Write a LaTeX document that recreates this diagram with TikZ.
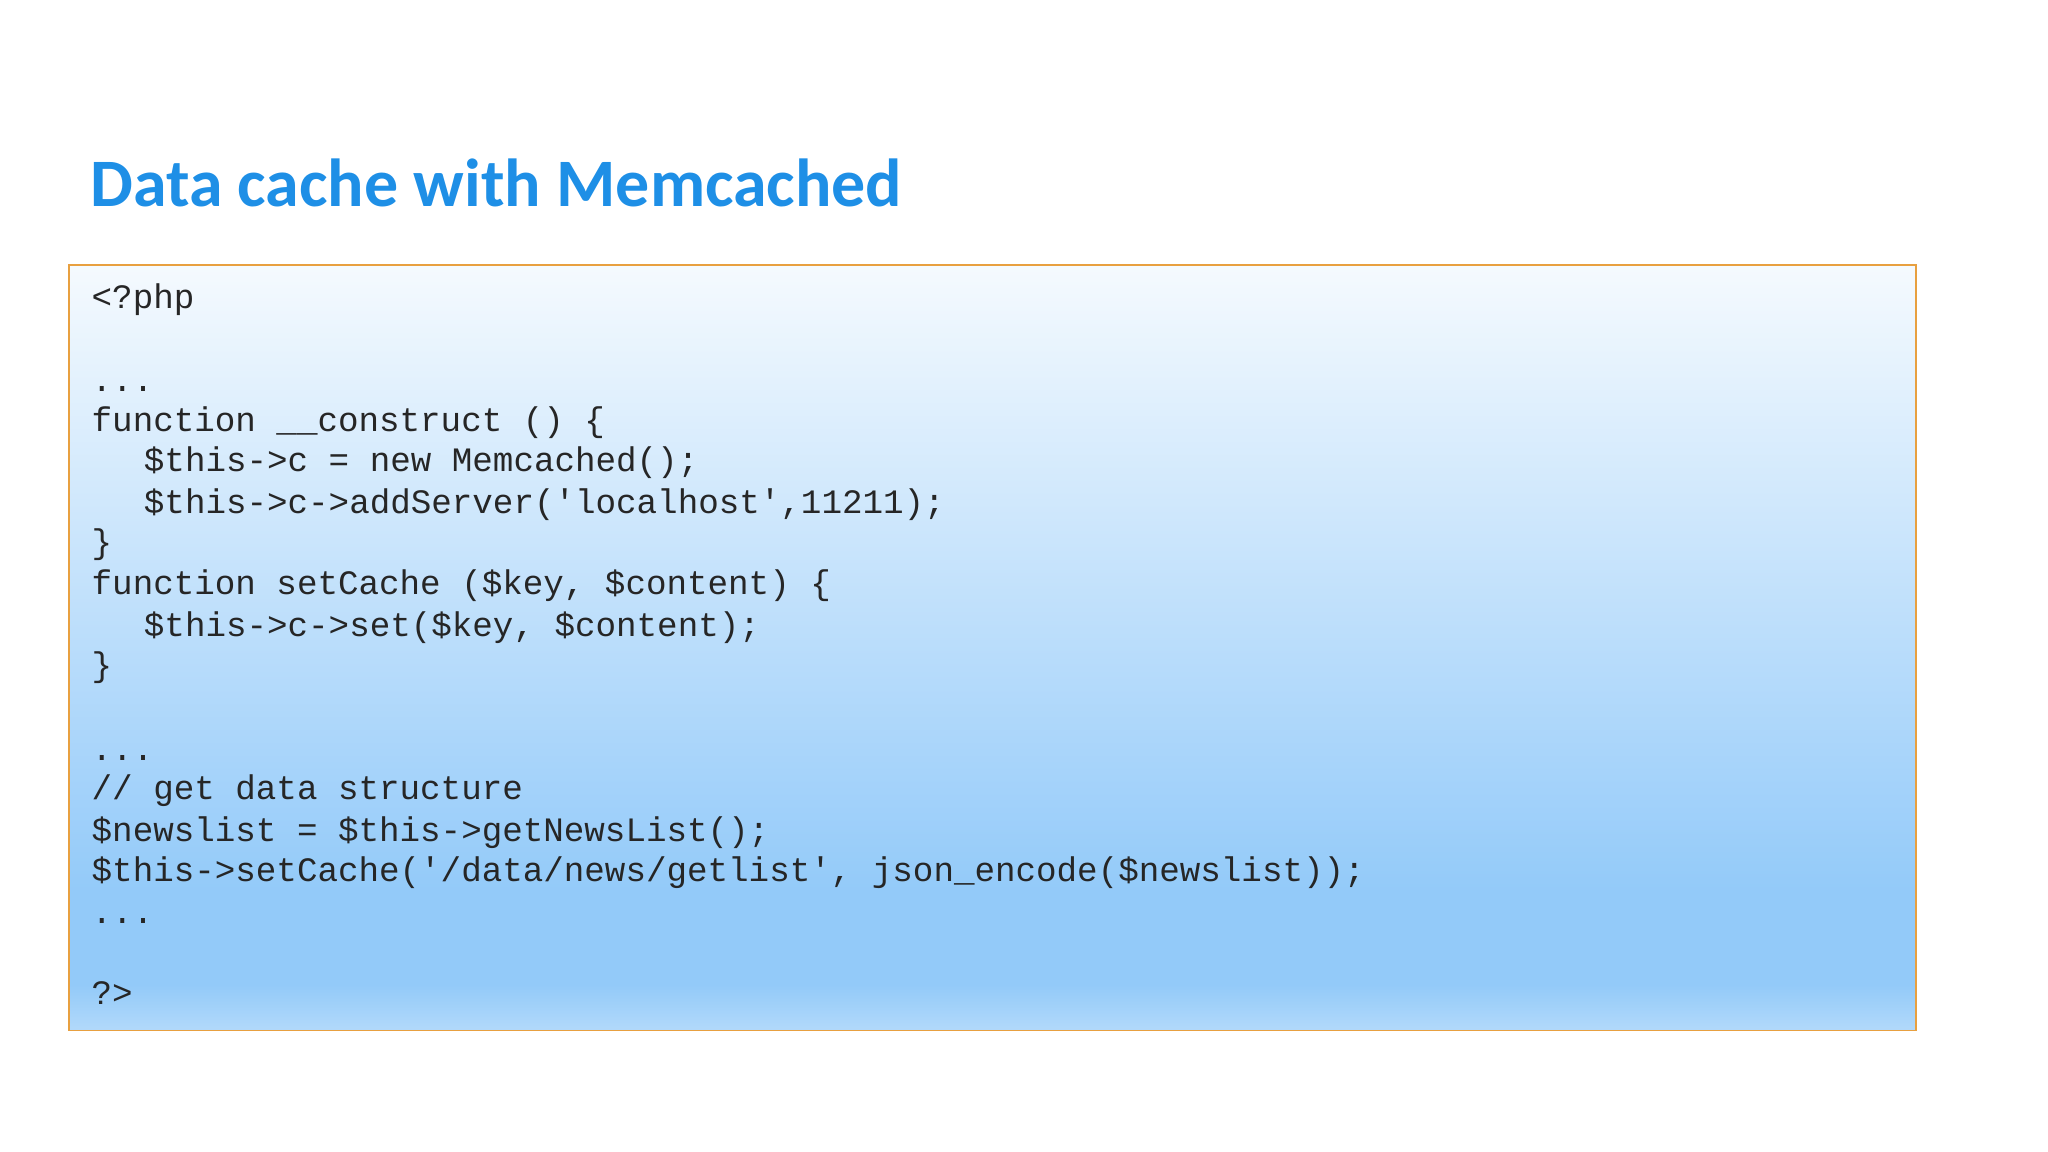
\documentclass[tikz,border=0pt]{standalone}
\usepackage{fontspec}
\setmainfont{Carlito}
\setmonofont{Liberation Mono}
\definecolor{titleblue}{HTML}{1E8FE6}
\definecolor{boxorange}{HTML}{E8A040}
\definecolor{bgA}{HTML}{B2D9FA}
\definecolor{bgB}{HTML}{93CAF9}
\definecolor{bgC}{HTML}{F5FAFE}
\pgfdeclareverticalshading{codebg}{100bp}{
  color(0bp)=(bgA);
  color(25bp)=(bgA);
  color(28bp)=(bgB);
  color(34bp)=(bgB);
  color(75bp)=(bgC);
  color(100bp)=(bgC)}
\begin{document}
\begin{tikzpicture}[x=1pt,y=-1pt,
  codeline/.style={anchor=base west,inner sep=0pt,font=\ttfamily\fontsize{26.2}{30}\selectfont,text=black!85}]
\useasboundingbox (0,0) rectangle (1568,882);
\node[anchor=base west,inner sep=0pt,font=\bfseries\fontsize{52}{60}\selectfont,text=titleblue] (title) at (69,158) {Data cache with Memcached};
\path[shading=codebg] (53,203) rectangle (1467,789);
\draw[boxorange,line width=1.2pt] (53,203) rectangle (1467,789);
\node[codeline] (l0) at (70,236) {<?php};
\node[codeline] (l2) at (70,300) {...};
\node[codeline] (l3) at (70,330) {function \_\_construct () \{};
\node[codeline] (l4) at (110,361) {\$this->c = new Memcached();};
\node[codeline] (l5) at (110,393) {\$this->c->addServer('localhost',11211);};
\node[codeline] (l6) at (70,424) {\}};
\node[codeline] (l7) at (70,455) {function setCache (\$key, \$content) \{};
\node[codeline] (l8) at (110,487) {\$this->c->set(\$key, \$content);};
\node[codeline] (l9) at (70,518) {\}};
\node[codeline] (l11) at (70,582) {...};
\node[codeline] (l12) at (70,612) {// get data structure};
\node[codeline] (l13) at (70,644) {\$newslist = \$this->getNewsList();};
\node[codeline] (l14) at (70,675) {\$this->setCache('/data/news/getlist', json\_encode(\$newslist));};
\node[codeline] (l15) at (70,707) {...};
\node[codeline] (l17) at (70,769) {?>};
\end{tikzpicture}
\end{document}
